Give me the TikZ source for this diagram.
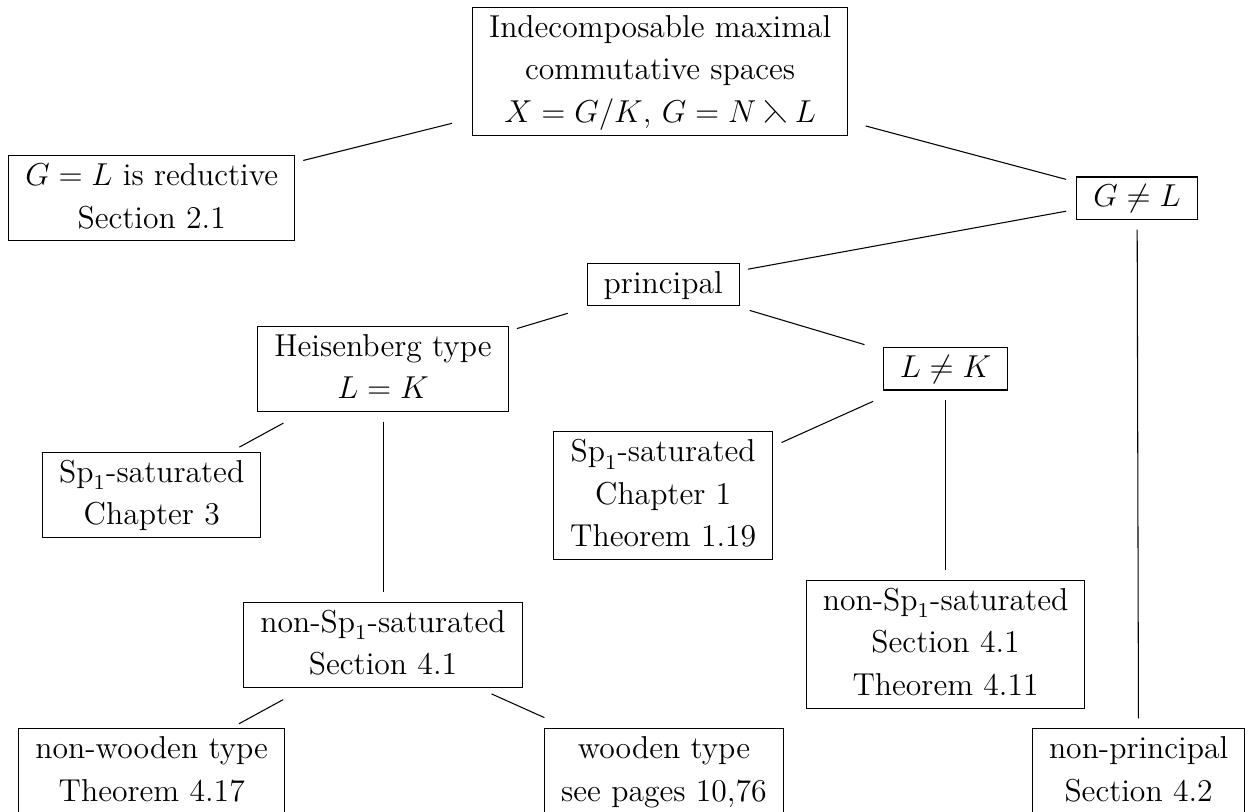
\documentclass[tikz,border=0pt,12pt]{standalone}
\usepackage{amsmath, amssymb}
\usepackage{tikz}
\renewcommand{\arraystretch}{1.11}
\newcommand{\rows}[1]{\begin{tabular}{@{}c@{}}#1\end{tabular}}
\tikzset{
	box/.style={
		draw,
		inner xsep=6.3pt,
		inner ysep=0pt
	},
	conn/.style 2 args={
		shorten <=#1,
		shorten >=#2
	}
}

\begin{document}
\begin{tikzpicture}
		\useasboundingbox (0,0) rectangle (16.63,10.80);
		
		\node [box] (top) at (8.79,9.85) {\rows{Indecomposable maximal\\commutative spaces\\$X=G/K$, $G=N\leftthreetimes L$}};
		\node [box] (gl) at (2.02,8.16) {\rows{$G=L$ is reductive\\Section 2.1}};
		\node [box] (gnl) at (15.14,8.16) {\rows{$G\neq L$}};
		\node [box] (princ) at (8.83,7.01) {\rows{principal}};
		\node [box] (heis) at (5.10,5.89) {\rows{Heisenberg type\\$L=K$}};
		\node [box] (lnk) at (12.59,5.89) {\rows{$L\neq K$}};
		\node [box] (sat3) at (2.02,4.21) {\rows{$\mathrm{Sp}_1$-saturated\\Chapter 3}};
		\node [box] (sat1) at (8.83,4.20) {\rows{$\mathrm{Sp}_1$-saturated\\Chapter 1\\Theorem 1.19}};
		\node [box] (nsatH) at (5.10,2.21) {\rows{non-$\mathrm{Sp}_1$-saturated\\Section 4.1}};
		\node [box] (nsatL) at (12.59,2.22) {\rows{non-$\mathrm{Sp}_1$-saturated\\Section 4.1\\Theorem 4.11}};
		\node [box] (nwood) at (2.02,0.53) {\rows{non-wooden type\\Theorem 4.17}};
		\node [box] (wood) at (8.84,0.53) {\rows{wooden type\\see pages 10,76}};
		\node [box] (nprinc) at (15.16,0.53) {\rows{non-principal\\Section 4.2}};
		
		\draw [conn={7.8pt}{3.1pt}] (top) -- (gl);
		\draw [conn={6.8pt}{4pt}] (top) -- (gnl);
		\draw [conn={3.9pt}{3.1pt}] (gnl) -- (princ);
		\draw [conn={3.6pt}{3.8pt}] (gnl) -- (nprinc);
		\draw [conn={9.1pt}{3.2pt}] (princ) -- (heis);
		\draw [conn={5.3pt}{7.2pt}] (princ) -- (lnk);
		\draw [conn={9pt}{3.8pt}] (heis) -- (sat3);
		\draw [conn={3.8pt}{3.8pt}] (heis) -- (nsatH);
		\draw [conn={10pt}{3.4pt}] (lnk) -- (sat1);
		\draw [conn={3.6pt}{3.8pt}] (lnk) -- (nsatL);
		\draw [conn={9.1pt}{3.6pt}] (nsatH) -- (nwood);
		\draw [conn={5.3pt}{9.9pt}] (nsatH) -- (wood);
\end{tikzpicture}
\end{document}
